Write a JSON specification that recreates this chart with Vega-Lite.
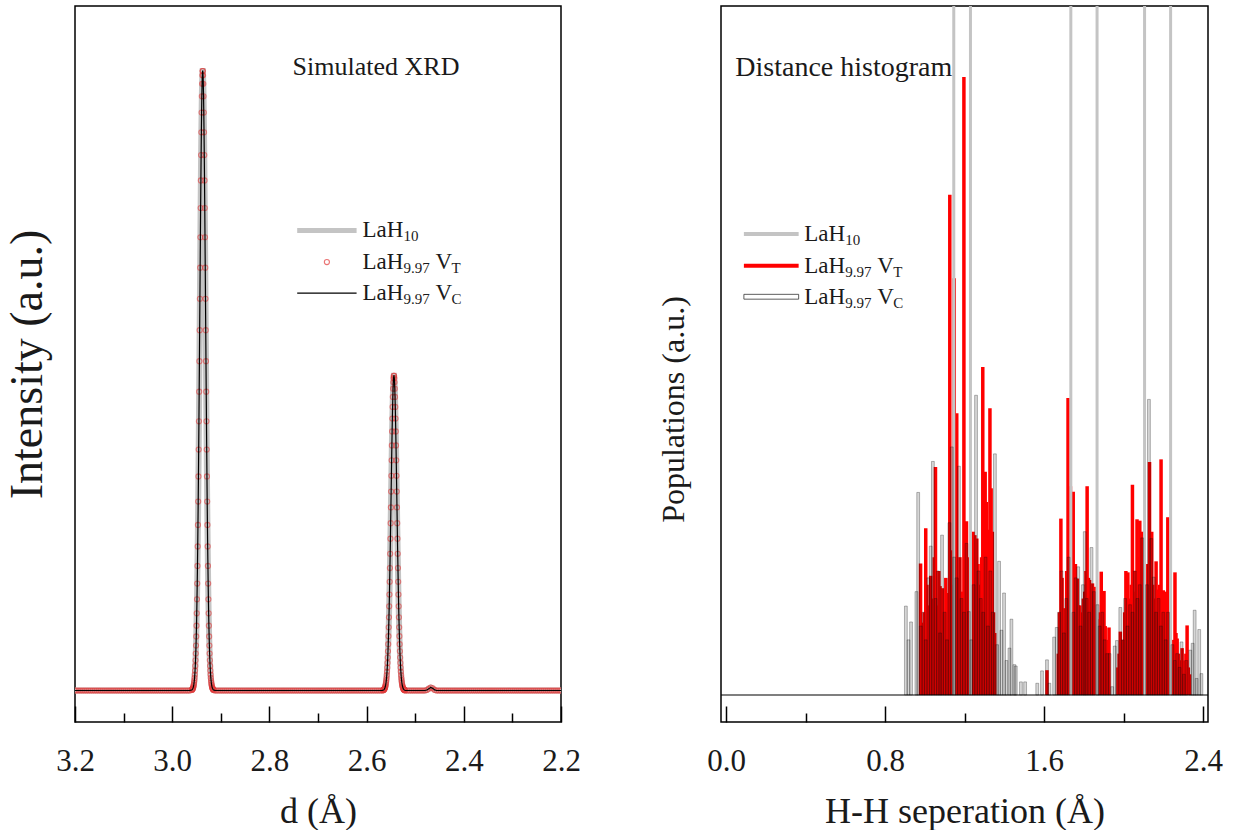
{
"$schema":"https://vega.github.io/schema/vega-lite/v6.json",
"background":"white",
"padding":{"left":3,"top":5,"right":0,"bottom":0},
"bounds":"flush",
"spacing":160,
"config":{
  "font":"'Liberation Serif', 'DejaVu Serif', serif",
  "view":{"stroke":"#000","strokeWidth":1.5},
  "axis":{"grid":false,"domain":false,"labelFont":"'Liberation Serif', 'DejaVu Serif', serif","titleFont":"'Liberation Serif', 'DejaVu Serif', serif","labelColor":"#1a1a1a","titleColor":"#1a1a1a","titleFontWeight":"normal","tickColor":"#000","tickWidth":1.5,"labelFlush":false,"labelOverlap":false},
  "text":{"font":"'Liberation Serif', 'DejaVu Serif', serif","color":"#1a1a1a"}
},
"datasets":{
"xrd":[
{"d":2.2,"i":0},{"d":2.204,"i":0},{"d":2.208,"i":0},{"d":2.212,"i":0},{"d":2.216,"i":0},{"d":2.22,"i":0},{"d":2.224,"i":0},{"d":2.228,"i":0},{"d":2.232,"i":0},{"d":2.236,"i":0},{"d":2.24,"i":0},{"d":2.244,"i":0},{"d":2.248,"i":0},{"d":2.252,"i":0},{"d":2.256,"i":0},{"d":2.26,"i":0},{"d":2.264,"i":0},{"d":2.268,"i":0},{"d":2.272,"i":0},{"d":2.276,"i":0},{"d":2.28,"i":0},{"d":2.284,"i":0},{"d":2.288,"i":0},{"d":2.292,"i":0},{"d":2.296,"i":0},{"d":2.3,"i":0},{"d":2.304,"i":0},{"d":2.308,"i":0},{"d":2.312,"i":0},{"d":2.316,"i":0},{"d":2.32,"i":0},{"d":2.324,"i":0},{"d":2.328,"i":0},{"d":2.332,"i":0},{"d":2.336,"i":0},{"d":2.34,"i":0},{"d":2.344,"i":0},{"d":2.348,"i":0},{"d":2.352,"i":0},{"d":2.356,"i":0},{"d":2.36,"i":0},{"d":2.364,"i":0},{"d":2.368,"i":0},{"d":2.372,"i":0},{"d":2.376,"i":0},{"d":2.38,"i":0},{"d":2.384,"i":0},{"d":2.388,"i":0},{"d":2.392,"i":0},{"d":2.396,"i":0},{"d":2.4,"i":0},{"d":2.404,"i":0},{"d":2.408,"i":0},{"d":2.412,"i":0},{"d":2.416,"i":0},{"d":2.42,"i":0},{"d":2.424,"i":0},{"d":2.428,"i":0},{"d":2.432,"i":0},{"d":2.436,"i":0},{"d":2.44,"i":0},{"d":2.444,"i":0},{"d":2.448,"i":0},{"d":2.452,"i":0},{"d":2.456,"i":0},{"d":2.46,"i":0.1},{"d":2.464,"i":0.35},{"d":2.468,"i":0.48},{"d":2.472,"i":0.3},{"d":2.476,"i":0.08},{"d":2.48,"i":0},{"d":2.484,"i":0},{"d":2.488,"i":0},{"d":2.492,"i":0},{"d":2.496,"i":0},{"d":2.5,"i":0},{"d":2.504,"i":0},{"d":2.508,"i":0},{"d":2.512,"i":0},{"d":2.516,"i":0},{"d":2.52,"i":0},
{"d":2.5215,"i":0.05},{"d":2.522,"i":0.07},{"d":2.5225,"i":0.1},{"d":2.523,"i":0.13},{"d":2.5235,"i":0.17},{"d":2.524,"i":0.23},{"d":2.5245,"i":0.3},{"d":2.525,"i":0.39},{"d":2.5255,"i":0.5},{"d":2.526,"i":0.64},{"d":2.5265,"i":0.81},{"d":2.527,"i":1.03},{"d":2.5275,"i":1.3},{"d":2.528,"i":1.62},{"d":2.5285,"i":2.01},{"d":2.529,"i":2.47},{"d":2.5295,"i":3.03},{"d":2.53,"i":3.68},{"d":2.5305,"i":4.44},{"d":2.531,"i":5.31},{"d":2.5315,"i":6.32},{"d":2.532,"i":7.47},{"d":2.5325,"i":8.76},{"d":2.533,"i":10.2},{"d":2.5335,"i":11.81},{"d":2.534,"i":13.57},{"d":2.5345,"i":15.48},{"d":2.535,"i":17.54},{"d":2.5355,"i":19.74},{"d":2.536,"i":22.06},{"d":2.5365,"i":24.48},{"d":2.537,"i":26.98},{"d":2.5375,"i":29.53},{"d":2.538,"i":32.09},{"d":2.5385,"i":34.64},{"d":2.539,"i":37.13},{"d":2.5395,"i":39.53},{"d":2.54,"i":41.79},{"d":2.5405,"i":43.87},{"d":2.541,"i":45.73},{"d":2.5415,"i":47.35},{"d":2.542,"i":48.68},{"d":2.5425,"i":49.71},{"d":2.543,"i":50.4},{"d":2.5435,"i":50.76},
{"d":2.544,"i":50.76},{"d":2.5445,"i":50.4},{"d":2.545,"i":49.71},{"d":2.5455,"i":48.68},{"d":2.546,"i":47.35},{"d":2.5465,"i":45.73},{"d":2.547,"i":43.87},{"d":2.5475,"i":41.79},{"d":2.548,"i":39.53},{"d":2.5485,"i":37.13},{"d":2.549,"i":34.64},{"d":2.5495,"i":32.09},{"d":2.55,"i":29.53},{"d":2.5505,"i":26.98},{"d":2.551,"i":24.48},{"d":2.5515,"i":22.06},{"d":2.552,"i":19.74},{"d":2.5525,"i":17.54},{"d":2.553,"i":15.48},{"d":2.5535,"i":13.57},{"d":2.554,"i":11.81},{"d":2.5545,"i":10.2},{"d":2.555,"i":8.76},{"d":2.5555,"i":7.47},{"d":2.556,"i":6.32},{"d":2.5565,"i":5.31},{"d":2.557,"i":4.44},{"d":2.5575,"i":3.68},{"d":2.558,"i":3.03},{"d":2.5585,"i":2.47},{"d":2.559,"i":2.01},{"d":2.5595,"i":1.62},{"d":2.56,"i":1.3},{"d":2.5605,"i":1.03},{"d":2.561,"i":0.81},{"d":2.5615,"i":0.64},{"d":2.562,"i":0.5},{"d":2.5625,"i":0.39},{"d":2.563,"i":0.3},{"d":2.5635,"i":0.23},{"d":2.564,"i":0.17},{"d":2.5645,"i":0.13},{"d":2.565,"i":0.1},{"d":2.5655,"i":0.07},{"d":2.566,"i":0.05},
{"d":2.568,"i":0},{"d":2.572,"i":0},{"d":2.576,"i":0},{"d":2.58,"i":0},{"d":2.584,"i":0},{"d":2.588,"i":0},{"d":2.592,"i":0},{"d":2.596,"i":0},{"d":2.6,"i":0},{"d":2.604,"i":0},{"d":2.608,"i":0},{"d":2.612,"i":0},{"d":2.616,"i":0},{"d":2.62,"i":0},{"d":2.624,"i":0},{"d":2.628,"i":0},{"d":2.632,"i":0},{"d":2.636,"i":0},{"d":2.64,"i":0},{"d":2.644,"i":0},{"d":2.648,"i":0},{"d":2.652,"i":0},{"d":2.656,"i":0},{"d":2.66,"i":0},{"d":2.664,"i":0},{"d":2.668,"i":0},{"d":2.672,"i":0},{"d":2.676,"i":0},{"d":2.68,"i":0},{"d":2.684,"i":0},{"d":2.688,"i":0},{"d":2.692,"i":0},{"d":2.696,"i":0},{"d":2.7,"i":0},{"d":2.704,"i":0},{"d":2.708,"i":0},{"d":2.712,"i":0},{"d":2.716,"i":0},{"d":2.72,"i":0},{"d":2.724,"i":0},{"d":2.728,"i":0},{"d":2.732,"i":0},{"d":2.736,"i":0},{"d":2.74,"i":0},{"d":2.744,"i":0},{"d":2.748,"i":0},{"d":2.752,"i":0},{"d":2.756,"i":0},{"d":2.76,"i":0},{"d":2.764,"i":0},{"d":2.768,"i":0},{"d":2.772,"i":0},{"d":2.776,"i":0},{"d":2.78,"i":0},{"d":2.784,"i":0},{"d":2.788,"i":0},{"d":2.792,"i":0},{"d":2.796,"i":0},{"d":2.8,"i":0},{"d":2.804,"i":0},{"d":2.808,"i":0},{"d":2.812,"i":0},{"d":2.816,"i":0},{"d":2.82,"i":0},{"d":2.824,"i":0},{"d":2.828,"i":0},{"d":2.832,"i":0},{"d":2.836,"i":0},{"d":2.84,"i":0},{"d":2.844,"i":0},{"d":2.848,"i":0},{"d":2.852,"i":0},{"d":2.856,"i":0},{"d":2.86,"i":0},{"d":2.864,"i":0},{"d":2.868,"i":0},{"d":2.872,"i":0},{"d":2.876,"i":0},{"d":2.88,"i":0},{"d":2.884,"i":0},{"d":2.888,"i":0},{"d":2.892,"i":0},{"d":2.896,"i":0},{"d":2.9,"i":0},{"d":2.904,"i":0},{"d":2.908,"i":0},{"d":2.912,"i":0},
{"d":2.915,"i":0.1},{"d":2.9155,"i":0.14},{"d":2.916,"i":0.19},{"d":2.9165,"i":0.25},{"d":2.917,"i":0.34},{"d":2.9175,"i":0.44},{"d":2.918,"i":0.58},{"d":2.9185,"i":0.76},{"d":2.919,"i":0.98},{"d":2.9195,"i":1.26},{"d":2.92,"i":1.6},{"d":2.9205,"i":2.03},{"d":2.921,"i":2.56},{"d":2.9215,"i":3.19},{"d":2.922,"i":3.96},{"d":2.9225,"i":4.87},{"d":2.923,"i":5.96},{"d":2.9235,"i":7.24},{"d":2.924,"i":8.73},{"d":2.9245,"i":10.46},{"d":2.925,"i":12.44},{"d":2.9255,"i":14.7},{"d":2.926,"i":17.25},{"d":2.9265,"i":20.09},{"d":2.927,"i":23.24},{"d":2.9275,"i":26.71},{"d":2.928,"i":30.47},{"d":2.9285,"i":34.53},{"d":2.929,"i":38.86},{"d":2.9295,"i":43.42},{"d":2.93,"i":48.19},{"d":2.9305,"i":53.11},{"d":2.931,"i":58.12},{"d":2.9315,"i":63.18},{"d":2.932,"i":68.19},{"d":2.9325,"i":73.1},{"d":2.933,"i":77.82},{"d":2.9335,"i":82.26},{"d":2.934,"i":86.36},{"d":2.9345,"i":90.03},{"d":2.935,"i":93.21},{"d":2.9355,"i":95.84},{"d":2.936,"i":97.85},{"d":2.9365,"i":99.22},{"d":2.937,"i":99.91},
{"d":2.9375,"i":99.91},{"d":2.938,"i":99.22},{"d":2.9385,"i":97.85},{"d":2.939,"i":95.84},{"d":2.9395,"i":93.21},{"d":2.94,"i":90.03},{"d":2.9405,"i":86.36},{"d":2.941,"i":82.26},{"d":2.9415,"i":77.82},{"d":2.942,"i":73.1},{"d":2.9425,"i":68.19},{"d":2.943,"i":63.18},{"d":2.9435,"i":58.12},{"d":2.944,"i":53.11},{"d":2.9445,"i":48.19},{"d":2.945,"i":43.42},{"d":2.9455,"i":38.86},{"d":2.946,"i":34.53},{"d":2.9465,"i":30.47},{"d":2.947,"i":26.71},{"d":2.9475,"i":23.24},{"d":2.948,"i":20.09},{"d":2.9485,"i":17.25},{"d":2.949,"i":14.7},{"d":2.9495,"i":12.44},{"d":2.95,"i":10.46},{"d":2.9505,"i":8.73},{"d":2.951,"i":7.24},{"d":2.9515,"i":5.96},{"d":2.952,"i":4.87},{"d":2.9525,"i":3.96},{"d":2.953,"i":3.19},{"d":2.9535,"i":2.56},{"d":2.954,"i":2.03},{"d":2.9545,"i":1.6},{"d":2.955,"i":1.26},{"d":2.9555,"i":0.98},{"d":2.956,"i":0.76},{"d":2.9565,"i":0.58},{"d":2.957,"i":0.44},{"d":2.9575,"i":0.34},{"d":2.958,"i":0.25},{"d":2.9585,"i":0.19},{"d":2.959,"i":0.14},{"d":2.9595,"i":0.1},
{"d":2.964,"i":0},{"d":2.968,"i":0},{"d":2.972,"i":0},{"d":2.976,"i":0},{"d":2.98,"i":0},{"d":2.984,"i":0},{"d":2.988,"i":0},{"d":2.992,"i":0},{"d":2.996,"i":0},{"d":3.0,"i":0},{"d":3.004,"i":0},{"d":3.008,"i":0},{"d":3.012,"i":0},{"d":3.016,"i":0},{"d":3.02,"i":0},{"d":3.024,"i":0},{"d":3.028,"i":0},{"d":3.032,"i":0},{"d":3.036,"i":0},{"d":3.04,"i":0},{"d":3.044,"i":0},{"d":3.048,"i":0},{"d":3.052,"i":0},{"d":3.056,"i":0},{"d":3.06,"i":0},{"d":3.064,"i":0},{"d":3.068,"i":0},{"d":3.072,"i":0},{"d":3.076,"i":0},{"d":3.08,"i":0},{"d":3.084,"i":0},{"d":3.088,"i":0},{"d":3.092,"i":0},{"d":3.096,"i":0},{"d":3.1,"i":0},{"d":3.104,"i":0},{"d":3.108,"i":0},{"d":3.112,"i":0},{"d":3.116,"i":0},{"d":3.12,"i":0},{"d":3.124,"i":0},{"d":3.128,"i":0},{"d":3.132,"i":0},{"d":3.136,"i":0},{"d":3.14,"i":0},{"d":3.144,"i":0},{"d":3.148,"i":0},{"d":3.152,"i":0},{"d":3.156,"i":0},{"d":3.16,"i":0},{"d":3.164,"i":0},{"d":3.168,"i":0},{"d":3.172,"i":0},{"d":3.176,"i":0},{"d":3.18,"i":0},{"d":3.184,"i":0},{"d":3.188,"i":0},{"d":3.192,"i":0},{"d":3.196,"i":0},{"d":3.2,"i":0}
],
"lah10":[{"s":1.146,"n":150},{"s":1.23,"n":150},{"s":1.735,"n":150},{"s":1.867,"n":150},{"s":2.106,"n":150},{"s":2.237,"n":150}],
"vt":[
{"s":0.979,"n":19.1},{"s":0.992,"n":10.5},{"s":0.998,"n":12},{"s":1.005,"n":24.2},{"s":1.011,"n":16},{"s":1.018,"n":13},{"s":1.024,"n":9},{"s":1.03,"n":17.3},{"s":1.036,"n":14},{"s":1.042,"n":11},{"s":1.048,"n":20},{"s":1.054,"n":33.1},{"s":1.06,"n":8},{"s":1.066,"n":13},{"s":1.071,"n":18},{"s":1.077,"n":15.8},{"s":1.083,"n":10},{"s":1.09,"n":15.5},{"s":1.095,"n":12},{"s":1.101,"n":9},{"s":1.106,"n":17},{"s":1.112,"n":14.8},{"s":1.118,"n":11},{"s":1.126,"n":72.6},{"s":1.131,"n":21},{"s":1.137,"n":16},{"s":1.142,"n":12},{"s":1.148,"n":60.5},{"s":1.154,"n":25},{"s":1.161,"n":40.9},{"s":1.166,"n":14},{"s":1.172,"n":17},{"s":1.177,"n":20},{"s":1.183,"n":13.3},{"s":1.189,"n":15},{"s":1.197,"n":89.7},{"s":1.203,"n":18},{"s":1.21,"n":25.2},{"s":1.215,"n":20},{"s":1.221,"n":14},{"s":1.227,"n":17},{"s":1.232,"n":11},{"s":1.238,"n":18},{"s":1.243,"n":23.7},{"s":1.247,"n":20},{"s":1.252,"n":23.2},{"s":1.257,"n":21},{"s":1.262,"n":22.7},{"s":1.268,"n":19},{"s":1.274,"n":16},{"s":1.28,"n":14},{"s":1.286,"n":20},{"s":1.292,"n":47.6},{"s":1.298,"n":25},{"s":1.304,"n":32.4},{"s":1.31,"n":28},{"s":1.316,"n":24},{"s":1.322,"n":20},{"s":1.328,"n":41.6},{"s":1.334,"n":30},{"s":1.34,"n":23.7},{"s":1.346,"n":12},{"s":1.352,"n":9},
{"s":1.615,"n":3.6},
{"s":1.672,"n":6},{"s":1.678,"n":12},{"s":1.685,"n":25.6},{"s":1.691,"n":17},{"s":1.697,"n":12.6},{"s":1.702,"n":11},{"s":1.708,"n":12.3},{"s":1.714,"n":18},{"s":1.721,"n":43.1},{"s":1.727,"n":22},{"s":1.733,"n":30.3},{"s":1.74,"n":20},{"s":1.747,"n":29.5},{"s":1.752,"n":17},{"s":1.758,"n":19},{"s":1.763,"n":14},{"s":1.768,"n":16.9},{"s":1.774,"n":13},{"s":1.78,"n":13},{"s":1.786,"n":12},{"s":1.792,"n":11},{"s":1.798,"n":14},{"s":1.805,"n":15},{"s":1.811,"n":18},{"s":1.817,"n":30.3},{"s":1.823,"n":17},{"s":1.829,"n":16.7},{"s":1.835,"n":15},{"s":1.844,"n":16.2},{"s":1.85,"n":14},{"s":1.856,"n":15.7},{"s":1.862,"n":12},{"s":1.868,"n":11},{"s":1.873,"n":10},{"s":1.878,"n":9},{"s":1.883,"n":12},{"s":1.888,"n":17.9},{"s":1.895,"n":14},{"s":1.902,"n":15.1},{"s":1.908,"n":10},{"s":1.914,"n":7},{"s":1.92,"n":8},{"s":1.927,"n":9.8},
{"s":1.972,"n":4},{"s":1.978,"n":6},{"s":1.984,"n":9.2},{"s":1.99,"n":8},{"s":1.996,"n":7},{"s":2.002,"n":6},{"s":2.006,"n":12},{"s":2.012,"n":18},{"s":2.017,"n":15},{"s":2.022,"n":17.8},{"s":2.028,"n":14},{"s":2.033,"n":12},{"s":2.039,"n":16},{"s":2.045,"n":30.5},{"s":2.051,"n":15},{"s":2.057,"n":14},{"s":2.062,"n":18},{"s":2.068,"n":25.5},{"s":2.075,"n":20},{"s":2.082,"n":25.3},{"s":2.088,"n":18},{"s":2.094,"n":23.7},{"s":2.1,"n":16},{"s":2.106,"n":14},{"s":2.112,"n":17},{"s":2.118,"n":19},{"s":2.124,"n":19},{"s":2.131,"n":33.8},{"s":2.137,"n":20},{"s":2.142,"n":23.7},{"s":2.147,"n":16},{"s":2.152,"n":13},{"s":2.158,"n":14},{"s":2.164,"n":19.4},{"s":2.17,"n":15},{"s":2.176,"n":15.3},{"s":2.182,"n":16},{"s":2.189,"n":34.2},{"s":2.194,"n":15},{"s":2.2,"n":15.2},{"s":2.206,"n":13},{"s":2.212,"n":15},{"s":2.218,"n":14},{"s":2.223,"n":25.8},{"s":2.229,"n":12},{"s":2.236,"n":8},{"s":2.241,"n":7},{"s":2.247,"n":6},{"s":2.253,"n":8},{"s":2.259,"n":17.8},{"s":2.264,"n":9},{"s":2.27,"n":8.2},{"s":2.276,"n":6},{"s":2.283,"n":5},{"s":2.289,"n":5},{"s":2.295,"n":6.8},{"s":2.301,"n":5},{"s":2.308,"n":3.4},{"s":2.314,"n":6},{"s":2.32,"n":10.1},{"s":2.326,"n":4},{"s":2.332,"n":3}
],
"vc":[
{"s":0.905,"n":12.9},{"s":0.918,"n":8},{"s":0.931,"n":10.6},{"s":0.958,"n":15},{"s":0.967,"n":29.4},{"s":0.98,"n":10},{"s":0.993,"n":12},{"s":1.005,"n":8},{"s":1.018,"n":17},{"s":1.03,"n":21.6},{"s":1.041,"n":33.9},{"s":1.054,"n":14},{"s":1.066,"n":18},{"s":1.077,"n":9},{"s":1.087,"n":23.2},{"s":1.1,"n":12},{"s":1.112,"n":8},{"s":1.124,"n":25},{"s":1.136,"n":36},{"s":1.148,"n":20},{"s":1.16,"n":17},{"s":1.172,"n":33.2},{"s":1.185,"n":14},{"s":1.197,"n":12},{"s":1.21,"n":22},{"s":1.222,"n":12.1},{"s":1.234,"n":8},{"s":1.246,"n":16},{"s":1.258,"n":43.5},{"s":1.27,"n":18},{"s":1.282,"n":14},{"s":1.294,"n":12},{"s":1.306,"n":20},{"s":1.318,"n":10},{"s":1.33,"n":18},{"s":1.342,"n":12},{"s":1.353,"n":35},{"s":1.364,"n":7.3},{"s":1.374,"n":19.4},{"s":1.386,"n":9.4},{"s":1.399,"n":14.8},{"s":1.411,"n":5},{"s":1.426,"n":6.8},{"s":1.436,"n":11},{"s":1.451,"n":4.4},{"s":1.458,"n":4.2},{"s":1.484,"n":1.9},{"s":1.505,"n":1.9},{"s":1.566,"n":1.7},{"s":1.59,"n":3.5},{"s":1.615,"n":5.1},{"s":1.627,"n":1.7},{"s":1.651,"n":8.4},{"s":1.664,"n":9.8},{"s":1.676,"n":12},{"s":1.688,"n":18},{"s":1.7,"n":9},{"s":1.712,"n":14},{"s":1.724,"n":20},{"s":1.748,"n":12},{"s":1.76,"n":17},{"s":1.772,"n":18.6},{"s":1.784,"n":10},{"s":1.796,"n":16},{"s":1.805,"n":23.7},{"s":1.815,"n":14},{"s":1.827,"n":12},{"s":1.839,"n":21.4},{"s":1.851,"n":15},{"s":1.869,"n":13.1},{"s":1.88,"n":10},{"s":1.893,"n":12},{"s":1.905,"n":8},{"s":1.918,"n":6},{"s":1.93,"n":6},{"s":1.943,"n":1.2},{"s":1.956,"n":7.1},{"s":1.967,"n":7.9},{"s":1.984,"n":12.7},{"s":1.996,"n":8},{"s":2.008,"n":14},{"s":2.02,"n":10},{"s":2.033,"n":13.1},{"s":2.045,"n":12},{"s":2.057,"n":18},{"s":2.07,"n":14},{"s":2.082,"n":16},{"s":2.094,"n":22.8},{"s":2.118,"n":16},{"s":2.128,"n":42.9},{"s":2.14,"n":22.7},{"s":2.152,"n":17.1},{"s":2.164,"n":12},{"s":2.176,"n":14},{"s":2.188,"n":10},{"s":2.2,"n":12},{"s":2.212,"n":8},{"s":2.224,"n":12},{"s":2.246,"n":7.3},{"s":2.258,"n":5},{"s":2.27,"n":6},{"s":2.282,"n":4},{"s":2.292,"n":7.7},{"s":2.304,"n":3},{"s":2.316,"n":5},{"s":2.336,"n":6.5},{"s":2.348,"n":7.5},{"s":2.358,"n":12.3},{"s":2.368,"n":2.4},{"s":2.381,"n":9.5},{"s":2.392,"n":3.1}
]
},
"hconcat":[
{
"width":486,"height":716,
"resolve":{"axis":{"x":"independent","y":"independent"}},
"layer":[
 {"data":{"name":"xrd"},"mark":{"type":"line","color":"#c4c4c4","strokeWidth":6,"clip":true},
  "encoding":{
   "x":{"field":"d","type":"quantitative","scale":{"domain":[2.2,3.2],"reverse":true,"nice":false,"zero":false},
        "axis":{"orient":"bottom","values":[3.2,3.0,2.8,2.6,2.4,2.2],"format":".1f","tickSize":-16,"labelPadding":40,"labelFontSize":31,"title":"d (Å)","titleFontSize":36,"titlePadding":18}},
   "y":{"field":"i","type":"quantitative","scale":{"domain":[-5.08,110.4],"nice":false,"zero":false},
        "axis":{"orient":"left","title":"Intensity (a.u.)","titleFontSize":46,"labels":false,"ticks":false,"titlePadding":24}}}},
 {"data":{"name":"xrd"},"mark":{"type":"point","shape":"circle","filled":false,"size":26,"color":"#e23a3a","strokeWidth":1.1,"strokeOpacity":0.85,"clip":true},
  "encoding":{"x":{"field":"d","type":"quantitative","axis":null},"y":{"field":"i","type":"quantitative","axis":null}}},
 {"data":{"name":"xrd"},"mark":{"type":"line","color":"#000","strokeWidth":1.2,"clip":true},
  "encoding":{"x":{"field":"d","type":"quantitative","axis":null},"y":{"field":"i","type":"quantitative","axis":null}}},
 {"data":{"values":[{}]},"mark":{"type":"text","text":""},
  "encoding":{"x":{"datum":3.0,"type":"quantitative","axis":{"orient":"bottom","values":[3.1,2.9,2.7,2.5,2.3],"tickSize":-9,"labels":false,"title":null}},"y":{"datum":0,"type":"quantitative","axis":null}}},
 {"data":{"values":[{}]},"mark":{"type":"text","text":"Simulated XRD","align":"left","baseline":"middle","fontSize":26},
  "encoding":{"x":{"datum":2.7523,"type":"quantitative","axis":null},"y":{"datum":100.5,"type":"quantitative","axis":null}}},
 {"data":{"values":[{}]},"encoding":{"y":{"datum":74.2,"type":"quantitative","axis":null}},
  "layer":[
   {"mark":{"type":"rule","color":"#c4c4c4","strokeWidth":5},"encoding":{"x":{"datum":2.7428,"type":"quantitative","axis":null},"x2":{"datum":2.6206}}},
   {"mark":{"type":"text","text":"LaH","align":"left","baseline":"middle","fontSize":23},"encoding":{"x":{"datum":2.6086,"type":"quantitative","axis":null}}},
   {"mark":{"type":"text","text":"10","align":"left","baseline":"middle","fontSize":15,"dx":41,"dy":6},"encoding":{"x":{"datum":2.6086,"type":"quantitative","axis":null}}}
  ]},
 {"data":{"values":[{}]},"encoding":{"y":{"datum":69.1,"type":"quantitative","axis":null}},
  "layer":[
   {"mark":{"type":"point","shape":"circle","filled":false,"size":26,"color":"#e23a3a","strokeWidth":1.1},"encoding":{"x":{"datum":2.6817,"type":"quantitative","axis":null}}},
   {"mark":{"type":"text","text":"LaH","align":"left","baseline":"middle","fontSize":23},"encoding":{"x":{"datum":2.6086,"type":"quantitative","axis":null}}},
   {"mark":{"type":"text","text":"9.97","align":"left","baseline":"middle","fontSize":15,"dx":41,"dy":6},"encoding":{"x":{"datum":2.6086,"type":"quantitative","axis":null}}},
   {"mark":{"type":"text","text":"V","align":"left","baseline":"middle","fontSize":23,"dx":73},"encoding":{"x":{"datum":2.6086,"type":"quantitative","axis":null}}},
   {"mark":{"type":"text","text":"T","align":"left","baseline":"middle","fontSize":15,"dx":89,"dy":6},"encoding":{"x":{"datum":2.6086,"type":"quantitative","axis":null}}}
  ]},
 {"data":{"values":[{}]},"encoding":{"y":{"datum":64.1,"type":"quantitative","axis":null}},
  "layer":[
   {"mark":{"type":"rule","color":"#000","strokeWidth":1.2},"encoding":{"x":{"datum":2.7428,"type":"quantitative","axis":null},"x2":{"datum":2.6206}}},
   {"mark":{"type":"text","text":"LaH","align":"left","baseline":"middle","fontSize":23},"encoding":{"x":{"datum":2.6086,"type":"quantitative","axis":null}}},
   {"mark":{"type":"text","text":"9.97","align":"left","baseline":"middle","fontSize":15,"dx":41,"dy":6},"encoding":{"x":{"datum":2.6086,"type":"quantitative","axis":null}}},
   {"mark":{"type":"text","text":"V","align":"left","baseline":"middle","fontSize":23,"dx":73},"encoding":{"x":{"datum":2.6086,"type":"quantitative","axis":null}}},
   {"mark":{"type":"text","text":"C","align":"left","baseline":"middle","fontSize":15,"dx":89,"dy":6},"encoding":{"x":{"datum":2.6086,"type":"quantitative","axis":null}}}
  ]}
]
},
{
"width":487,"height":716,
"resolve":{"axis":{"x":"independent","y":"independent"}},
"layer":[
 {"data":{"name":"vt"},"mark":{"type":"bar","color":"#ff0000","size":3.5,"clip":true},
  "encoding":{
   "x":{"field":"s","type":"quantitative","scale":{"domain":[0,2.4],"nice":false,"zero":false},
        "axis":{"orient":"bottom","values":[0,0.8,1.6,2.4],"format":".1f","tickSize":-16,"labelPadding":40,"labelFontSize":31,"title":"H-H seperation (Å)","titleFontSize":36,"titlePadding":18}},
   "y":{"field":"n","type":"quantitative","scale":{"domain":[-3.92,100],"nice":false,"zero":false},
        "axis":{"orient":"left","title":"Populations (a.u.)","titleFontSize":32,"titleY":403,"labels":false,"ticks":false,"titlePadding":31}},
   "y2":{"datum":0}}},
 {"data":{"name":"lah10"},"mark":{"type":"bar","color":"#c4c4c4","size":3,"clip":true},
  "encoding":{"x":{"field":"s","type":"quantitative","axis":null},"y":{"field":"n","type":"quantitative","axis":null},"y2":{"datum":0}}},
 {"data":{"name":"vc"},"mark":{"type":"bar","fill":"#000","fillOpacity":0.16,"stroke":"#111","strokeWidth":0.5,"strokeOpacity":0.6,"size":2.8,"clip":true},
  "encoding":{"x":{"field":"s","type":"quantitative","axis":null},"y":{"field":"n","type":"quantitative","axis":null},"y2":{"datum":0}}},
 {"data":{"values":[{}]},"mark":{"type":"rule","color":"#000","strokeWidth":1.2},
  "encoding":{"y":{"datum":0,"type":"quantitative","axis":null}}},
 {"data":{"values":[{}]},"mark":{"type":"text","text":""},
  "encoding":{"x":{"datum":1.2,"type":"quantitative","axis":{"orient":"bottom","values":[0.4,1.2,2.0],"tickSize":-9,"labels":false,"title":null}},"y":{"datum":50,"type":"quantitative","axis":null}}},
 {"data":{"values":[{}]},"mark":{"type":"text","text":"Distance histogram","align":"left","baseline":"middle","fontSize":28},
  "encoding":{"x":{"datum":0.047,"type":"quantitative","axis":null},"y":{"datum":91.0,"type":"quantitative","axis":null}}},
 {"data":{"values":[{}]},"encoding":{"y":{"datum":66.9,"type":"quantitative","axis":null}},
  "layer":[
   {"mark":{"type":"rule","color":"#c4c4c4","strokeWidth":4},"encoding":{"x":{"datum":0.09,"type":"quantitative","axis":null},"x2":{"datum":0.3655}}},
   {"mark":{"type":"text","text":"LaH","align":"left","baseline":"middle","fontSize":23},"encoding":{"x":{"datum":0.3935,"type":"quantitative","axis":null}}},
   {"mark":{"type":"text","text":"10","align":"left","baseline":"middle","fontSize":15,"dx":41,"dy":6},"encoding":{"x":{"datum":0.3935,"type":"quantitative","axis":null}}}
  ]},
 {"data":{"values":[{}]},"encoding":{"y":{"datum":62.3,"type":"quantitative","axis":null}},
  "layer":[
   {"mark":{"type":"rule","color":"#ff0000","strokeWidth":4},"encoding":{"x":{"datum":0.09,"type":"quantitative","axis":null},"x2":{"datum":0.3655}}},
   {"mark":{"type":"text","text":"LaH","align":"left","baseline":"middle","fontSize":23},"encoding":{"x":{"datum":0.3935,"type":"quantitative","axis":null}}},
   {"mark":{"type":"text","text":"9.97","align":"left","baseline":"middle","fontSize":15,"dx":41,"dy":6},"encoding":{"x":{"datum":0.3935,"type":"quantitative","axis":null}}},
   {"mark":{"type":"text","text":"V","align":"left","baseline":"middle","fontSize":23,"dx":73},"encoding":{"x":{"datum":0.3935,"type":"quantitative","axis":null}}},
   {"mark":{"type":"text","text":"T","align":"left","baseline":"middle","fontSize":15,"dx":89,"dy":6},"encoding":{"x":{"datum":0.3935,"type":"quantitative","axis":null}}}
  ]},
 {"data":{"values":[{}]},"encoding":{"y":{"datum":57.8,"type":"quantitative","axis":null}},
  "layer":[
   {"mark":{"type":"rect","fill":"#fff","stroke":"#333","strokeWidth":0.8},"encoding":{"x":{"datum":0.09,"type":"quantitative","axis":null},"x2":{"datum":0.3655},"y":{"datum":58.15,"type":"quantitative","axis":null},"y2":{"datum":57.45}}},
   {"mark":{"type":"text","text":"LaH","align":"left","baseline":"middle","fontSize":23},"encoding":{"x":{"datum":0.3935,"type":"quantitative","axis":null}}},
   {"mark":{"type":"text","text":"9.97","align":"left","baseline":"middle","fontSize":15,"dx":41,"dy":6},"encoding":{"x":{"datum":0.3935,"type":"quantitative","axis":null}}},
   {"mark":{"type":"text","text":"V","align":"left","baseline":"middle","fontSize":23,"dx":73},"encoding":{"x":{"datum":0.3935,"type":"quantitative","axis":null}}},
   {"mark":{"type":"text","text":"C","align":"left","baseline":"middle","fontSize":15,"dx":89,"dy":6},"encoding":{"x":{"datum":0.3935,"type":"quantitative","axis":null}}}
  ]}
]
}
]
}
